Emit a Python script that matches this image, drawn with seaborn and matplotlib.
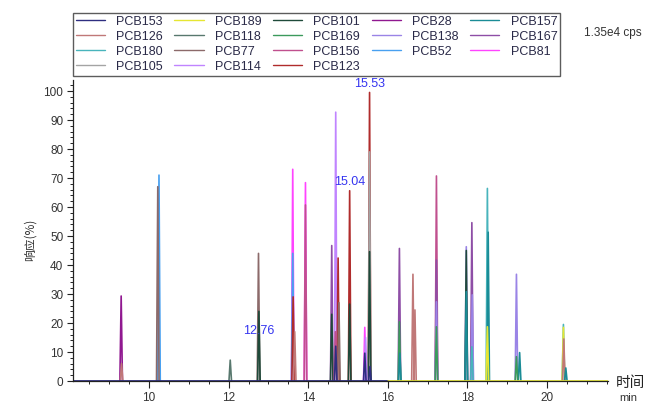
import matplotlib
matplotlib.use("Agg")
import matplotlib.pyplot as plt
from matplotlib.lines import Line2D
from matplotlib.ticker import MultipleLocator
import seaborn as sns
import pandas as pd

# ---------------- data ----------------
COMPOUNDS = ["PCB153", "PCB189", "PCB101", "PCB28", "PCB157",
             "PCB126", "PCB118", "PCB169", "PCB138", "PCB167",
             "PCB180", "PCB77", "PCB156", "PCB52", "PCB81",
             "PCB105", "PCB114", "PCB123"]
COLORS = ["#2e2e80", "#e6e632", "#1f4a3a", "#901890", "#1a8c96",
          "#c07878", "#58786e", "#3c9a5c", "#9a84e6", "#8e4ea6",
          "#48b4bc", "#8c6a6a", "#c0508e", "#48a0f0", "#ff44ff",
          "#a4a4a4", "#c084ff", "#b02c2c"]

PEAK_COMPOUND = ["PCB28", "PCB126", "PCB77", "PCB52", "PCB118", "PCB77", "PCB101",
                 "PCB81", "PCB52", "PCB123", "PCB126", "PCB81", "PCB156",
                 "PCB167", "PCB101", "PCB114", "PCB156", "PCB153", "PCB123", "PCB77",
                 "PCB123", "PCB101", "PCB81", "PCB114", "PCB153",
                 "PCB123", "PCB105", "PCB101", "PCB153",
                 "PCB167", "PCB169", "PCB157", "PCB126", "PCB126",
                 "PCB156", "PCB167", "PCB138", "PCB169",
                 "PCB138", "PCB101", "PCB157", "PCB167", "PCB138", "PCB180",
                 "PCB180", "PCB157", "PCB189",
                 "PCB138", "PCB169", "PCB157",
                 "PCB180", "PCB189", "PCB126", "PCB157"]
PEAK_TIME = [9.30, 9.31, 10.22, 10.25, 12.04, 12.75, 12.76,
             13.61, 13.61, 13.62, 13.66, 13.93, 13.93,
             14.59, 14.59, 14.69, 14.68, 14.69, 14.75, 14.77,
             15.04, 15.04, 15.42, 15.44, 15.42,
             15.54, 15.54, 15.54, 15.55,
             16.29, 16.29, 16.30, 16.63, 16.68,
             17.22, 17.22, 17.22, 17.22,
             17.97, 17.97, 17.97, 18.11, 18.12, 18.11,
             18.50, 18.52, 18.50,
             19.23, 19.23, 19.31,
             20.41, 20.41, 20.42, 20.47]
PEAK_HEIGHT = [29.3, 6.0, 67.0, 71.0, 7.2, 44.0, 24.0,
               73.0, 44.0, 29.0, 17.0, 68.4, 60.7,
               46.7, 23.0, 92.7, 17.0, 12.0, 42.4, 27.0,
               65.6, 26.5, 18.5, 15.0, 9.6,
               99.5, 79.0, 44.6, 5.0,
               45.7, 20.4, 9.6, 36.8, 24.5,
               70.7, 41.7, 27.3, 18.7,
               46.3, 45.0, 30.8, 54.6, 29.7, 11.8,
               66.4, 51.3, 18.7,
               36.8, 8.4, 9.8,
               19.5, 18.5, 14.5, 4.5]

BASELINE_COMPOUND = ["PCB153", "PCB189"]
BASELINE_START = [8.09, 16.0]
BASELINE_END = [16.0, 21.53]

LABEL_TIMES = [12.76, 15.04, 15.53]
LABEL_HEIGHTS = [17.2, 68.6, 102.4]

XTICKS = [10, 12, 14, 16, 18, 20]
YTICKS = [0, 10, 20, 30, 40, 50, 60, 70, 80, 90, 100]

# ---------------- styling ----------------
sns.set_style("ticks")
plt.rcParams["font.family"] = ["Liberation Sans", "Noto Sans CJK SC", "DejaVu Sans"]
CJK = ["Noto Sans CJK SC", "DejaVu Sans"]
TXT = "#333333"
palette = dict(zip(COMPOUNDS, COLORS))

HALF_W = 0.032
rows = []
for i, (c, t, h) in enumerate(zip(PEAK_COMPOUND, PEAK_TIME, PEAK_HEIGHT)):
    for k, (x, y) in enumerate([(t - HALF_W, 0.0), (t, h), (t + HALF_W, 0.0)]):
        rows.append({"seg": f"p{i}", "compound": c, "time": x, "response": y,
                     "order": k, "height": h})
df = pd.DataFrame(rows)
order = (df.drop_duplicates("seg").sort_values("height", ascending=False)["seg"].tolist())
seg_pal = {s: palette[c] for s, c in df.drop_duplicates("seg")[["seg", "compound"]].values}

fig = plt.figure(figsize=(6.52, 4.08), dpi=100)
ax = fig.add_axes([73 / 652, 1 - 381 / 408, (608 - 73) / 652, (381 - 80) / 408])

sns.lineplot(data=df, x="time", y="response", hue="seg", hue_order=order,
             palette=seg_pal, units="seg", estimator=None, sort=False,
             legend=False, linewidth=1.2, ax=ax)

brows = []
for c, s, e in zip(BASELINE_COMPOUND, BASELINE_START, BASELINE_END):
    brows += [{"compound": c, "time": s, "response": 0.0},
              {"compound": c, "time": e, "response": 0.0}]
bdf = pd.DataFrame(brows)
sns.lineplot(data=bdf, x="time", y="response", hue="compound", palette=palette,
             units="compound", estimator=None, sort=False, legend=False,
             linewidth=2.0, ax=ax)

for t, y in zip(LABEL_TIMES, LABEL_HEIGHTS):
    ax.text(t, y, f"{t:.2f}", color="#3535f0", fontsize=9, ha="center", va="center")

ax.set_xlim(8.09, 21.53)
ax.set_ylim(0, 103.8)
ax.set_xticks(XTICKS)
ax.set_yticks(YTICKS)
ax.xaxis.set_minor_locator(MultipleLocator(0.5))
ax.yaxis.set_minor_locator(MultipleLocator(2))
ax.tick_params(axis="both", which="major", length=4, width=0.8, color="#222222",
               labelsize=8.5, labelcolor=TXT, pad=3)
ax.tick_params(axis="both", which="minor", length=2.5, width=0.7, color="#222222")
ax.tick_params(axis="x", which="major", length=5)
ax.set_xlabel("")
ax.set_ylabel("")
for s in ["top", "right"]:
    ax.spines[s].set_visible(False)
for s in ["left", "bottom"]:
    ax.spines[s].set_color("#222222")
    ax.spines[s].set_linewidth(0.9)

fig.text(30 / 652, 1 - 240 / 408, "响应(%)", rotation=90, ha="center", va="center",
         fontsize=8.5, color=TXT, family=CJK)
fig.text(630 / 652, 1 - 383 / 408, "时间", ha="center", va="center",
         fontsize=10.5, color="#222222", family=CJK)
fig.text(628 / 652, 1 - 398 / 408, "min", ha="center", va="center",
         fontsize=8, color=TXT)
fig.text(613 / 652, 1 - 33 / 408, "1.35e4 cps", ha="center", va="center",
         fontsize=8.5, color=TXT)

# legend filled row by row (matplotlib fills column by column)
NCOL = 5
nrow = -(-len(COMPOUNDS) // NCOL)
idx = [r * NCOL + c for c in range(NCOL) for r in range(nrow)
       if r * NCOL + c < len(COMPOUNDS)]
handles = [Line2D([0], [0], color=COLORS[i], lw=1.0) for i in idx]
labels = [COMPOUNDS[i] for i in idx]
leg = fig.legend(handles, labels, ncol=NCOL, loc="upper left",
                 bbox_to_anchor=(73 / 652, 1 - 13 / 408), frameon=True,
                 fancybox=False, edgecolor="#333333", fontsize=9,
                 handlelength=2.35, handletextpad=0.9, columnspacing=0.9,
                 labelspacing=0.24, borderpad=0.22, borderaxespad=0)
leg.get_frame().set_linewidth(1.0)
for t in leg.get_texts():
    t.set_color("#2a2a48")

fig.savefig("out.png", dpi=100)
